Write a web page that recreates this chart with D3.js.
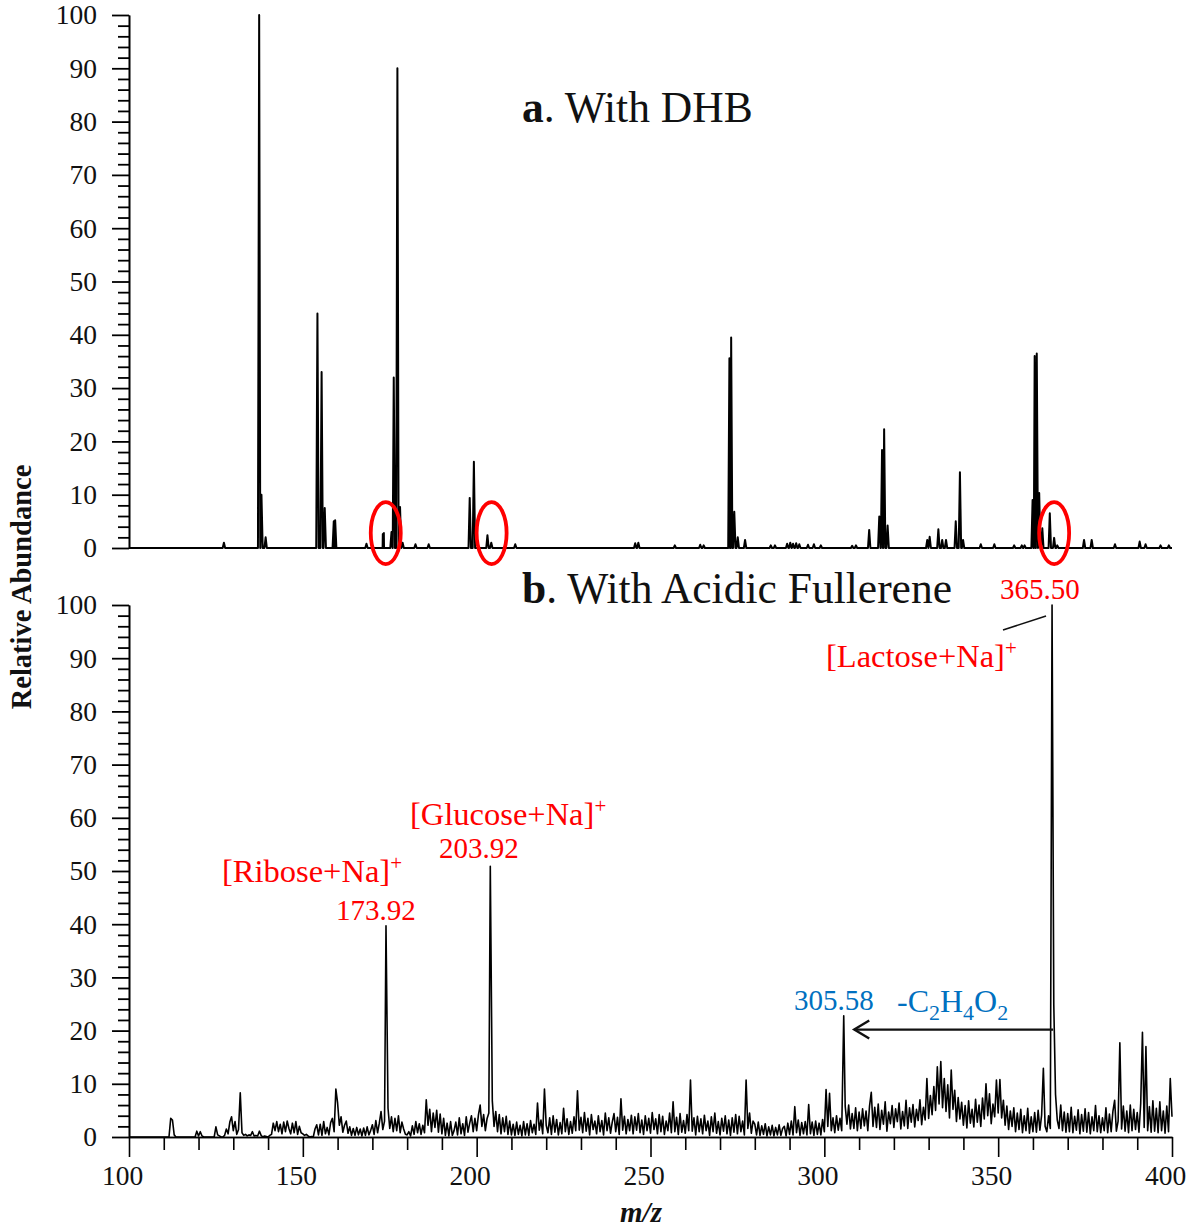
<!DOCTYPE html>
<html>
<head>
<meta charset="utf-8">
<script src="https://cdn.jsdelivr.net/npm/d3@7"></script>
<style>
  body { margin: 0; background: #fff; }
  svg text { font-family: "Liberation Serif", "Times New Roman", Times, serif; }
</style>
</head>
<body>
<svg id="chart" width="1195" height="1228"></svg>
<script>
// ---- data -------------------------------------------------------------
// (a) DHB matrix spectrum: centroid peaks [m/z, relative abundance %]
const dhbPeaks = [
  [127.3, 1.0], [137.44, 100], [138.1, 10], [139.3, 2],
  [154.2, 44], [155.4, 33], [156.3, 7.5], [158.9, 5.0], [159.3, 5.2],
  [168.3, 0.8], [173.0, 2.6], [173.3, 2.8], [175.5, 3.0], [176.15, 32], [177.2, 90], [177.96, 7.7], [178.7, 1.0],
  [182.4, 0.7], [186.2, 0.7], [198.0, 9.4], [199.2, 16.2], [203.1, 2.4], [204.2, 1.0], [211.1, 0.7],
  [245.6, 0.9], [246.5, 1.0], [257.0, 0.5], [264.3, 0.6], [265.3, 0.5],
  [272.7, 35.6], [273.2, 39.5], [274.1, 6.8], [275.1, 2.0], [277.2, 1.5],
  [284.6, 0.5], [285.8, 0.5], [289.3, 0.8], [290.2, 1.0], [291.0, 0.8], [291.9, 0.9], [292.8, 0.7],
  [295.3, 0.6], [297.0, 0.7], [299.0, 0.5], [308.0, 0.4], [309.1, 0.5],
  [312.9, 3.4], [315.8, 5.9], [316.6, 18.4], [317.2, 22.3], [318.2, 4.2],
  [329.6, 1.5], [330.3, 2.1], [332.8, 3.5], [333.9, 1.5], [335.0, 1.5], [337.8, 5.0], [339.0, 14.2], [339.9, 1.5],
  [345.0, 0.7], [348.9, 0.7], [354.6, 0.5], [356.8, 0.5], [357.6, 0.5],
  [359.9, 9.0], [360.5, 36], [361.1, 36.5], [361.8, 10.3], [362.7, 3.7], [364.85, 6.5], [366.1, 1.9], [367.0, 0.5],
  [374.7, 1.5], [376.9, 1.5], [383.6, 0.7], [390.7, 1.2], [392.4, 0.7], [396.7, 0.5], [399.1, 0.5]
];

// (b) acidic fullerene spectrum: profile rows, each row = [start m/z, ten readings at 0.5 m/z spacing]
const fullereneRows = [
  [110, 0, 0, 0, 0, 3.5, 3.2, 0.4, 0, 0, 0],
  [115, 0, 0, 0, 0, 0, 0, 0, 0, 0, 1.1],
  [120, 0.2, 1.0, 0.2, 0, 0, 0, 0, 0, 0, 0],
  [125, 1.9, 0.4, 0.2, 0, 0, 0.3, 1.5, 0.6, 2.8, 3.8],
  [130, 1.2, 2.9, 0.5, 1.4, 8.3, 0.8, 0.3, 0.5, 0.2, 0.4],
  [135, 0.3, 1.0, 0.2, 0.3, 0.2, 1.1, 0.3, 0, 0.2, 0.1],
  [140, 0, 0.3, 0.5, 2.6, 1.2, 2.9, 1.0, 2.4, 0.6, 2.8],
  [145, 1.0, 3.0, 1.6, 0.6, 2.6, 0.8, 2.9, 0.5, 2.0, 0.8],
  [150, 0.6, 0.3, 0.5, 0.2, 0, 0.1, 0, 1.5, 2.3, 0.4],
  [155, 2.4, 0.3, 2.9, 0.6, 1.8, 0.4, 2.7, 3.5, 1.0, 9.0],
  [160, 6.4, 2.2, 3.8, 0.9, 2.2, 3.0, 0.7, 1.9, 0.3, 1.6],
  [165, 0.3, 1.8, 0.4, 1.5, 0.2, 1.7, 0.3, 1.9, 0.4, 1.2],
  [170, 2.3, 0.5, 3.1, 0.8, 2.6, 4.8, 1.4, 3.0, 1.5, 5.4],
  [175, 1.6, 3.8, 1.0, 3.5, 1.2, 4.0, 0.8, 2.8, 1.5, 0.5],
  [180, 0.4, 1.0, 0.2, 2.1, 0.5, 2.9, 0.8, 2.5, 0.5, 2.2],
  [185, 0.8, 7.0, 2.2, 5.2, 1.0, 4.5, 1.8, 5.0, 0.9, 4.3],
  [190, 0.6, 3.5, 0.3, 2.6, 0.2, 2.9, 0.3, 1.2, 2.8, 0.4],
  [195, 3.6, 0.6, 2.5, 0.3, 3.8, 0.9, 2.6, 4.0, 1.0, 3.5],
  [200, 1.2, 4.1, 6.0, 2.0, 4.2, 1.2, 3.5, 4.5, 5.5, 6.8],
  [205, 2.0, 4.8, 1.0, 4.2, 0.6, 3.6, 1.0, 3.9, 0.5, 3.0],
  [210, 0.4, 2.4, 0.3, 2.8, 0.5, 2.2, 0.2, 2.9, 0.4, 2.5],
  [215, 0.3, 3.1, 0.8, 2.4, 0.5, 6.4, 1.3, 3.2, 0.6, 9.0],
  [220, 2.2, 0.8, 3.6, 0.5, 4.0, 0.9, 3.3, 0.4, 2.7, 0.6],
  [225, 5.4, 1.0, 3.4, 0.5, 2.9, 0.7, 3.8, 1.2, 8.7, 1.3],
  [230, 3.7, 0.8, 4.6, 1.1, 3.5, 0.4, 4.2, 1.4, 3.0, 0.6],
  [235, 4.0, 1.0, 3.1, 0.4, 4.5, 1.2, 3.6, 0.7, 2.8, 4.4],
  [240, 1.0, 3.7, 0.5, 7.2, 1.3, 3.9, 0.6, 3.3, 1.2, 4.1],
  [245, 0.6, 3.8, 1.3, 4.4, 0.8, 3.2, 0.5, 4.0, 1.2, 3.5],
  [250, 0.7, 4.6, 1.4, 3.4, 0.6, 4.2, 1.0, 3.9, 0.5, 3.0],
  [255, 1.2, 4.5, 0.8, 6.6, 1.0, 3.7, 0.5, 4.4, 0.9, 3.1],
  [260, 0.7, 4.2, 1.2, 10.7, 1.1, 3.6, 0.4, 3.9, 1.0, 3.4],
  [265, 0.6, 4.1, 1.2, 3.0, 0.3, 3.8, 1.0, 4.5, 0.7, 2.9],
  [270, 0.4, 3.5, 1.1, 4.0, 0.6, 3.2, 0.3, 3.6, 0.9, 4.2],
  [275, 0.6, 3.9, 1.0, 3.0, 0.4, 10.7, 1.6, 4.5, 0.7, 3.0],
  [280, 2.4, 0.4, 2.8, 0.3, 2.1, 0.5, 2.5, 0.2, 1.9, 0.4],
  [285, 2.2, 0.2, 1.8, 0.4, 2.3, 0.3, 1.6, 2.0, 0.2, 2.6],
  [290, 0.5, 3.0, 0.4, 5.7, 0.8, 3.2, 0.3, 2.7, 0.6, 2.9],
  [295, 0.4, 6.1, 0.6, 2.8, 0.3, 3.0, 0.5, 2.6, 0.4, 3.3],
  [300, 1.0, 8.9, 2.0, 8.2, 1.2, 3.6, 0.8, 4.0, 1.3, 3.5],
  [305, 1.2, 3.2, 5.8, 2.4, 6.0, 1.5, 4.4, 1.6, 5.5, 1.2],
  [310, 4.7, 1.6, 5.3, 2.1, 4.9, 1.2, 5.8, 8.4, 2.0, 5.6],
  [315, 1.8, 6.2, 1.4, 5.0, 2.4, 6.6, 1.1, 4.7, 2.5, 5.9],
  [320, 1.8, 5.3, 2.9, 6.4, 1.5, 4.8, 2.1, 6.9, 1.6, 5.5],
  [325, 2.8, 6.1, 1.9, 5.2, 3.1, 7.0, 2.3, 5.6, 3.2, 11.0],
  [330, 3.5, 7.8, 4.2, 9.5, 5.0, 13.2, 6.2, 14.2, 5.5, 11.0],
  [335, 4.8, 9.8, 3.6, 12.6, 5.2, 8.8, 2.9, 7.4, 3.4, 6.5],
  [340, 2.2, 5.9, 1.7, 6.8, 2.6, 5.2, 1.9, 7.1, 2.8, 6.0],
  [345, 2.0, 7.3, 3.4, 10.0, 4.0, 8.1, 2.5, 6.2, 3.8, 10.7],
  [350, 4.5, 10.8, 3.6, 6.9, 2.2, 5.8, 1.4, 4.9, 2.0, 5.5],
  [355, 1.0, 4.5, 1.4, 5.2, 0.8, 4.0, 1.2, 5.4, 0.7, 3.8],
  [360, 1.0, 4.6, 0.9, 5.0, 1.3, 4.1, 12.9, 2.0, 1.0, 4.0],
  [365, 1.6, 2.5, 24.8, 8.0, 3.2, 1.6, 6.0, 1.2, 4.7, 0.9],
  [370, 4.4, 1.0, 5.6, 0.8, 3.9, 1.3, 5.1, 0.6, 4.2, 1.1],
  [375, 5.3, 0.9, 4.6, 0.6, 3.8, 1.2, 5.9, 1.0, 4.0, 0.8],
  [380, 3.6, 1.2, 5.5, 0.8, 4.3, 1.0, 4.8, 6.9, 1.1, 3.0],
  [385, 17.7, 1.5, 5.8, 1.1, 4.9, 0.8, 6.0, 1.2, 5.2, 1.4],
  [390, 4.6, 0.9, 6.3, 19.7, 1.8, 17.0, 1.2, 5.7, 0.9, 6.8],
  [395, 1.1, 5.4, 0.8, 6.6, 1.2, 4.9, 0.7, 5.8, 1.0, 11.0],
  [400, 3.8]
];
const rowStep = 0.5;

// labelled sodium adduct / fragment peaks in (b): [m/z, relative abundance %]
const fullerenePeaks = [[173.92, 39.7], [203.92, 50.9], [305.58, 22.8], [365.50, 100]];

// neutral loss arrow in (b): from m/z, to m/z (arrow tip), abundance level
const lossArrow = { from: 365.5, to: 308.6, level: 20.2 };

// peaks circled in (a), at m/z
const circledMz = [173.85, 204.3, 366.1];

// axis ticks
const xMajorTicks = [100, 150, 200, 250, 300, 350, 400];
const xMinorTicks = [110, 120, 130, 140, 160, 170, 180, 190, 210, 220, 230, 240, 260, 270, 280, 290,
                     310, 320, 330, 340, 360, 370, 380, 390];
const yMajorTicks = [0, 10, 20, 30, 40, 50, 60, 70, 80, 90, 100];
const yMinorTicks = [2, 4, 6, 8, 12, 14, 16, 18, 22, 24, 26, 28, 32, 34, 36, 38, 42, 44, 46, 48,
                     52, 54, 56, 58, 62, 64, 66, 68, 72, 74, 76, 78, 82, 84, 86, 88, 92, 94, 96, 98];

// ---- scales -----------------------------------------------------------
const svg = d3.select('#chart');
const x = d3.scaleLinear().domain([100, 400]).range([129, 1172]);
const yA = d3.scaleLinear().domain([0, 100]).range([548, 15]);
const yB = d3.scaleLinear().domain([0, 100]).range([1137, 605]);

const red = '#ff0000';
const blue = '#0070c0';

// ---- axes -------------------------------------------------------------
function styleAxis(g, width) {
  g.select('.domain').attr('stroke', '#000').attr('stroke-width', 1.6);
  g.selectAll('.tick line').attr('stroke', '#000').attr('stroke-width', width);
  g.selectAll('.tick text').attr('fill', '#111').attr('font-size', 27.5)
    .style('font-family', '"Liberation Serif", "Times New Roman", serif');
}

function yAxis(y) {
  const gMinor = svg.append('g').attr('transform', `translate(${x(100)},0)`)
    .call(d3.axisLeft(y).tickValues(yMinorTicks).tickSize(11).tickFormat('').tickSizeOuter(0));
  styleAxis(gMinor, 1.8);
  const gMajor = svg.append('g').attr('transform', `translate(${x(100)},0)`)
    .call(d3.axisLeft(y).tickValues(yMajorTicks).tickSize(17).tickPadding(15).tickSizeOuter(0));
  styleAxis(gMajor, 1.8);
}
yAxis(yA);
yAxis(yB);

const gxMinor = svg.append('g').attr('transform', `translate(0,${yB(0)})`)
  .call(d3.axisBottom(x).tickValues(xMinorTicks).tickSize(13).tickFormat('').tickSizeOuter(0));
styleAxis(gxMinor, 1.6);
const gxMajor = svg.append('g').attr('transform', `translate(0,${yB(0)})`)
  .call(d3.axisBottom(x).tickValues(xMajorTicks).tickSize(20).tickPadding(8).tickSizeOuter(0));
styleAxis(gxMajor, 1.6);
gxMajor.selectAll('.tick text').attr('dx', -7);

// ---- spectrum (a) -----------------------------------------------------
const halfWidth = 0.35;
const dhbProfile = [[100, 0], [400, 0]];
dhbPeaks.forEach(([mz, h]) => {
  dhbProfile.push([mz - halfWidth, 0], [mz, h], [mz + halfWidth, 0]);
});
dhbProfile.sort((p, q) => p[0] - q[0]);

svg.append('path')
  .datum(dhbProfile)
  .attr('fill', 'none')
  .attr('stroke', '#000')
  .attr('stroke-width', 2.0)
  .attr('stroke-linejoin', 'round')
  .attr('d', d3.line().x(d => x(d[0])).y(d => yA(d[1])));

// ---- spectrum (b) -----------------------------------------------------
const fullereneProfile = [[100, 0]];
fullereneRows.forEach(row => {
  const start = row[0];
  row.slice(1).forEach((v, i) => {
    const mz = start + i * rowStep;
    if (fullerenePeaks.some(p => Math.abs(p[0] - mz) < 0.1)) return;
    fullereneProfile.push([mz, v]);
  });
});
fullerenePeaks.forEach(p => fullereneProfile.push(p));
fullereneProfile.sort((p, q) => p[0] - q[0]);

svg.append('path')
  .datum(fullereneProfile)
  .attr('fill', 'none')
  .attr('stroke', '#000')
  .attr('stroke-width', 1.6)
  .attr('stroke-linejoin', 'round')
  .attr('d', d3.line().x(d => x(d[0])).y(d => yB(d[1])));

// ---- circled peaks in (a) --------------------------------------------
svg.selectAll('ellipse.mark')
  .data(circledMz)
  .join('ellipse')
  .attr('class', 'mark')
  .attr('cx', d => x(d))
  .attr('cy', yA(2.8))
  .attr('rx', 15)
  .attr('ry', 31)
  .attr('fill', 'none')
  .attr('stroke', red)
  .attr('stroke-width', 3.8);

// ---- panel titles -----------------------------------------------------
function title(tx, ty, letter, rest) {
  const t = svg.append('text').attr('x', tx).attr('y', ty).attr('font-size', 43.5).attr('fill', '#111');
  t.append('tspan').attr('font-weight', 'bold').text(letter);
  t.append('tspan').text(rest);
}
title(522, 122, 'a', '. With DHB');
title(522, 603, 'b', '. With Acidic Fullerene');

// ---- axis titles ------------------------------------------------------
svg.append('text')
  .attr('transform', 'translate(31,587) rotate(-90)')
  .attr('text-anchor', 'middle')
  .attr('font-size', 28.5)
  .attr('font-weight', 'bold')
  .attr('fill', '#111')
  .text('Relative Abundance');

svg.append('text')
  .attr('x', 641)
  .attr('y', 1222)
  .attr('text-anchor', 'middle')
  .attr('font-size', 29)
  .attr('font-weight', 'bold')
  .attr('font-style', 'italic')
  .attr('fill', '#111')
  .text('m/z');

// ---- peak annotations in (b) -----------------------------------------
function ionLabel(tx, ty, name) {
  const t = svg.append('text').attr('x', tx).attr('y', ty).attr('font-size', 32.5).attr('fill', red);
  t.append('tspan').text(name);
  t.append('tspan').attr('font-size', 21).attr('dy', -12).text('+');
}
function massLabel(tx, ty, txt, color) {
  svg.append('text').attr('x', tx).attr('y', ty).attr('font-size', 29).attr('fill', color).text(txt);
}

ionLabel(222, 882, '[Ribose+Na]');
massLabel(336, 920, fullerenePeaks[0][0].toFixed(2), red);
ionLabel(410, 825, '[Glucose+Na]');
massLabel(439, 858, fullerenePeaks[1][0].toFixed(2), red);
massLabel(1000, 599, fullerenePeaks[3][0].toFixed(2), red);
ionLabel(826, 667, '[Lactose+Na]');
massLabel(794, 1010, fullerenePeaks[2][0].toFixed(2), blue);

// leader from the lactose label to its peak
svg.append('line')
  .attr('x1', 1003).attr('y1', 630)
  .attr('x2', x(365.5) - 6).attr('y2', 616)
  .attr('stroke', '#111').attr('stroke-width', 1.5);

// neutral loss formula
const loss = svg.append('text').attr('x', 897).attr('y', 1012).attr('font-size', 32).attr('fill', blue);
loss.append('tspan').text('-C');
loss.append('tspan').attr('font-size', 22).attr('dy', 8).text('2');
loss.append('tspan').attr('dy', -8).text('H');
loss.append('tspan').attr('font-size', 22).attr('dy', 8).text('4');
loss.append('tspan').attr('dy', -8).text('O');
loss.append('tspan').attr('font-size', 22).attr('dy', 8).text('2');

// neutral loss arrow
const ay = yB(lossArrow.level);
const ax0 = x(lossArrow.from) + 1;
const ax1 = x(lossArrow.to);
svg.append('line')
  .attr('x1', ax0).attr('y1', ay).attr('x2', ax1).attr('y2', ay)
  .attr('stroke', '#111').attr('stroke-width', 2.2);
svg.append('path')
  .attr('d', `M${ax1 + 15},${ay - 9} L${ax1},${ay} L${ax1 + 15},${ay + 9}`)
  .attr('fill', 'none')
  .attr('stroke', '#111')
  .attr('stroke-width', 2.4)
  .attr('stroke-linejoin', 'miter');
</script>
</body>
</html>
